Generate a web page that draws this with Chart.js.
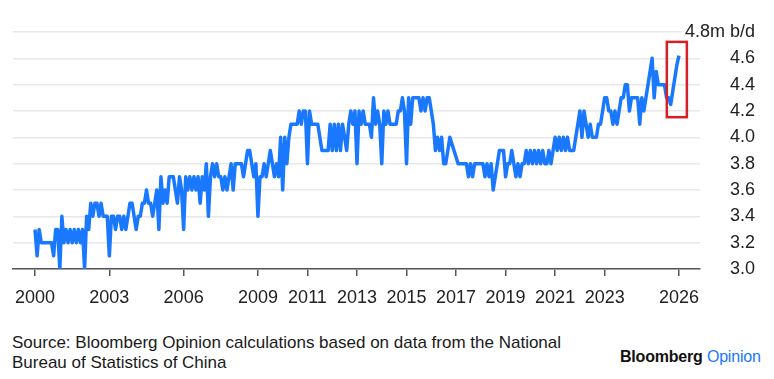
<!DOCTYPE html>
<html>
<head>
<meta charset="utf-8">
<script src="https://cdn.jsdelivr.net/npm/chart.js@4/dist/chart.umd.min.js"></script>
<style>
  html, body { margin:0; padding:0; background:#fff; }
  #wrap { position:relative; width:774px; height:379px; overflow:hidden; }
  #chartBox { position:absolute; left:0; top:0; width:774px; height:320px; }
  #source { position:absolute; left:12px; top:333px; font-family:"Liberation Sans Narrow","Liberation Sans",Arial,sans-serif; font-size:17px; line-height:20px; color:#1a1a1a; white-space:nowrap; }
  #logo { position:absolute; left:620px; top:347px; font-family:"Liberation Sans Narrow","Liberation Sans",Arial,sans-serif; font-size:16px; line-height:20px; white-space:nowrap; letter-spacing:-0.2px; }
  #logo b { color:#111; font-weight:bold; }
  #logo span { color:#1a78ff; }
</style>
</head>
<body>
<div id="wrap">
  <div id="chartBox"><canvas id="c"></canvas></div>
  <div id="source">Source: Bloomberg Opinion calculations based on data from the National<br>Bureau of Statistics of China</div>
  <div id="logo"><b>Bloomberg</b> <span>Opinion</span></div>
</div>
<script>
// ---- data (monthly, m b/d), starting January 2000 ----
const startYear = 2000;
const values = [
  3.3, 3.1, 3.3, 3.2, 3.2, 3.2, 3.2, 3.2, 3.2, 3.1, 3.3, 3.3,   // 2000
  3.0, 3.4, 3.2, 3.3, 3.2, 3.3, 3.2, 3.3, 3.2, 3.3, 3.2, 3.3,   // 2001
  3.0, 3.4, 3.3, 3.5, 3.4, 3.5, 3.5, 3.4, 3.5, 3.4, 3.4, 3.4,   // 2002
  3.1, 3.4, 3.4, 3.3, 3.4, 3.4, 3.3, 3.4, 3.3, 3.4, 3.5, 3.5,   // 2003
  3.4, 3.3, 3.4, 3.4, 3.5, 3.5, 3.6, 3.5, 3.5, 3.4, 3.5, 3.6,   // 2004
  3.3, 3.7, 3.5, 3.6, 3.5, 3.7, 3.7, 3.7, 3.6, 3.5, 3.7, 3.6,   // 2005
  3.3, 3.7, 3.6, 3.7, 3.6, 3.7, 3.6, 3.7, 3.5, 3.7, 3.6, 3.8,   // 2006
  3.4, 3.7, 3.8, 3.7, 3.8, 3.7, 3.7, 3.6, 3.7, 3.6, 3.7, 3.8,   // 2007
  3.6, 3.8, 3.8, 3.8, 3.8, 3.7, 3.8, 3.9, 3.9, 3.8, 3.7, 3.8,   // 2008
  3.4, 3.7, 3.7, 3.8, 3.7, 3.8, 3.9, 3.8, 3.7, 3.8, 3.7, 4.0,   // 2009
  3.6, 4.0, 3.8, 4.0, 4.1, 4.1, 4.1, 4.1, 4.2, 4.1, 4.2, 4.2,   // 2010
  3.8, 4.2, 4.1, 4.1, 4.1, 4.1, 4.0, 3.9, 3.9, 3.9, 3.9, 4.1,   // 2011
  3.9, 4.1, 3.9, 4.1, 3.9, 4.1, 4.0, 3.9, 4.1, 4.2, 4.1, 4.2,   // 2012
  3.8, 4.2, 4.1, 4.2, 4.1, 4.1, 4.1, 4.0, 4.3, 4.1, 4.2, 4.1,   // 2013
  3.8, 4.2, 4.1, 4.2, 4.1, 4.1, 4.1, 4.1, 4.2, 4.2, 4.3, 4.2,   // 2014
  3.8, 4.3, 4.1, 4.3, 4.3, 4.3, 4.3, 4.2, 4.3, 4.2, 4.3, 4.3,   // 2015
  4.2, 4.1, 3.9, 4.0, 3.9, 4.0, 3.8, 3.8, 3.9, 4.0, 3.95, 3.9,  // 2016
  3.85, 3.8, 3.8, 3.8, 3.8, 3.8, 3.7, 3.8, 3.7, 3.8, 3.8, 3.8,  // 2017
  3.8, 3.8, 3.7, 3.8, 3.7, 3.8, 3.6, 3.7, 3.8, 3.9, 3.9, 3.9,   // 2018
  3.7, 3.8, 3.8, 3.9, 3.8, 3.7, 3.8, 3.7, 3.8, 3.8, 3.9, 3.8,   // 2019
  3.9, 3.8, 3.9, 3.8, 3.9, 3.8, 3.9, 3.8, 3.8, 3.9, 3.8, 3.9,   // 2020
  4.0, 3.9, 4.0, 3.9, 4.0, 3.9, 4.0, 3.9, 3.9, 3.9, 4.0, 4.1,   // 2021
  4.2, 4.0, 4.2, 4.1, 4.0, 4.1, 4.0, 4.0, 4.0, 4.1, 4.1, 4.2,   // 2022
  4.3, 4.3, 4.2, 4.2, 4.1, 4.2, 4.1, 4.2, 4.3, 4.3, 4.4, 4.4,   // 2023
  4.2, 4.3, 4.3, 4.3, 4.3, 4.1, 4.3, 4.2, 4.3, 4.4, 4.5, 4.6,   // 2024
  4.3, 4.5, 4.4, 4.4, 4.4, 4.4, 4.3, 4.3, 4.25, 4.35, 4.45, 4.55, // 2025
  4.62                                                          // 2026
];
const tickYears = [2000, 2003, 2006, 2009, 2011, 2013, 2015, 2017, 2019, 2021, 2023, 2026];
const yMin = 3.0, yMax = 4.8, yStep = 0.2;
const unitLabel = 'm b/d';
// highlighted recent period (x in years, y in m b/d)
const highlightX = [2025.51, 2026.32];
const highlightY = [4.153, 4.725];

const points = values.map((v, i) => ({ x: startYear + i / 12, y: v }));

const boxPlugin = {
  id: 'highlightBox',
  afterDatasetsDraw(chart) {
    const xs = chart.scales.x, ys = chart.scales.y, ctx = chart.ctx;
    const x1 = xs.getPixelForValue(highlightX[0]), x2 = xs.getPixelForValue(highlightX[1]);
    const y1 = ys.getPixelForValue(highlightY[1]), y2 = ys.getPixelForValue(highlightY[0]);
    ctx.save();
    ctx.strokeStyle = '#d61f26';
    ctx.lineWidth = 2.5;
    ctx.strokeRect(x1, y1, x2 - x1, y2 - y1);
    ctx.restore();
  }
};

// widen the right axis label area (so the unit label is not clipped) without shrinking the plot
const labelRoomPlugin = {
  id: 'labelRoom',
  afterLayout(chart) { chart.scales.y.left -= 30; }
};

new Chart(document.getElementById('c'), {
  type: 'line',
  data: {
    datasets: [{
      data: points,
      borderColor: '#1a78ff',
      borderWidth: 3.5,
      pointRadius: 0,
      tension: 0,
      borderJoinStyle: 'round',
      fill: false
    }]
  },
  options: {
    responsive: true,
    maintainAspectRatio: false,
    animation: false,
    layout: { padding: { left: 13, right: 19, top: 32, bottom: 15 } },
    plugins: { legend: { display: false }, tooltip: { enabled: false } },
    scales: {
      x: {
        type: 'linear',
        min: 1999.11,
        max: 2026.85,
        afterBuildTicks: (scale) => { scale.ticks = tickYears.map(v => ({ value: v })); },
        afterFit: (scale) => { scale.height = 36; },
        ticks: {
          autoSkip: false, maxRotation: 0, minRotation: 0, padding: 11,
          color: '#222',
          font: { family: '"Liberation Sans", Arial, sans-serif', size: 18 },
          callback: (v) => String(v)
        },
        grid: { display: true, drawOnChartArea: false, drawTicks: true, tickLength: 7, color: '#555', lineWidth: 1.5 },
        border: { display: true, color: '#555', width: 1.5 }
      },
      y: {
        position: 'right',
        min: yMin, max: yMax,
        afterFit: (scale) => { scale.width = 55; },
        ticks: {
          stepSize: yStep,
          crossAlign: 'far',
          padding: 4,
          color: '#222',
          font: { family: '"Liberation Sans", Arial, sans-serif', size: 18 },
          showLabelBackdrop: true,
          backdropColor: '#fff',
          backdropPadding: { left: 3, right: 0, top: 0, bottom: 0 },
          callback: (v) => Math.abs(v - yMax) < 1e-6 ? yMax.toFixed(1) + unitLabel : v.toFixed(1)
        },
        grid: { color: '#e8e8e8', lineWidth: 1.5, drawTicks: false },
        border: { display: false }
      }
    }
  },
  plugins: [boxPlugin, labelRoomPlugin]
});
</script>
</body>
</html>
